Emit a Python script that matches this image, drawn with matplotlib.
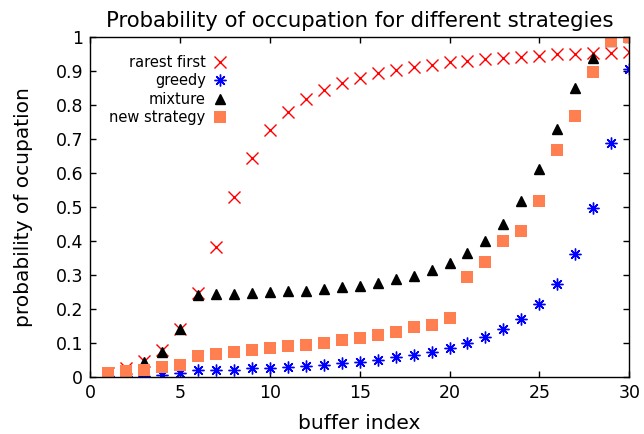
import numpy as np
import matplotlib
matplotlib.use("Agg")
import matplotlib.pyplot as plt

plt.rcParams['font.family'] = ['DejaVu Sans']

#-----------------------------------------------------------------------------------------------------------------------
# Data
#-----------------------------------------------------------------------------------------------------------------------
buffer_index = list(range(1, 31))

rarest_first = [0.012, 0.025, 0.045, 0.080, 0.140, 0.246, 0.381, 0.528, 0.643, 0.726,
                0.780, 0.817, 0.844, 0.864, 0.879, 0.893, 0.903, 0.910, 0.918, 0.925,
                0.928, 0.934, 0.937, 0.942, 0.944, 0.949, 0.951, 0.952, 0.954, 0.955]

greedy = [0.001, 0.002, 0.003, 0.005, 0.011, 0.019, 0.019, 0.020, 0.025, 0.027,
          0.029, 0.032, 0.035, 0.040, 0.043, 0.050, 0.058, 0.063, 0.073, 0.085,
          0.098, 0.117, 0.140, 0.171, 0.215, 0.273, 0.361, 0.496, 0.689, 0.905]

mixture = [0.010, 0.020, 0.042, 0.074, 0.140, 0.241, 0.243, 0.243, 0.245, 0.249,
           0.251, 0.253, 0.257, 0.264, 0.268, 0.277, 0.287, 0.297, 0.313, 0.334,
           0.364, 0.398, 0.450, 0.518, 0.612, 0.728, 0.849, 0.939, 0.989, 1.000]

new_strategy = [0.011, 0.016, 0.019, 0.030, 0.035, 0.062, 0.066, 0.074, 0.079, 0.084,
                0.089, 0.094, 0.099, 0.109, 0.114, 0.124, 0.133, 0.145, 0.151, 0.173,
                0.294, 0.337, 0.398, 0.430, 0.518, 0.668, 0.767, 0.898, 0.989, 1.000]

y_ticks = np.arange(0, 1.01, 0.1)
y_tick_labels = ['0', '0.1', '0.2', '0.3', '0.4', '0.5', '0.6', '0.7', '0.8', '0.9', '1']
x_ticks = [0, 5, 10, 15, 20, 25, 30]

#-----------------------------------------------------------------------------------------------------------------------
# Plot
#-----------------------------------------------------------------------------------------------------------------------
fig = plt.figure(figsize=(6.44, 4.34), dpi=100)
ax = fig.add_axes([0.140, 0.132, 0.837, 0.783])

ax.plot(buffer_index, rarest_first, linestyle='none', marker='x', color='red',
        markersize=8, markeredgewidth=1.0, label='rarest first')
ax.plot(buffer_index, greedy, linestyle='none', marker=(8, 2, 0), color='blue',
        markersize=8.5, markeredgewidth=1.0, label='greedy')
ax.plot(buffer_index, mixture, linestyle='none', marker='^', color='black',
        markersize=7.5, label='mixture')
ax.plot(buffer_index, new_strategy, linestyle='none', marker='s', color='#ff7f50',
        markersize=8.3, markeredgewidth=0, label='new strategy')

ax.set_xlim(0, 30)
ax.set_ylim(0, 1)
ax.set_xticks(x_ticks)
ax.set_yticks(y_ticks)
ax.set_yticklabels(y_tick_labels)
ax.tick_params(direction='in', top=True, right=True, length=4, width=1,
               labelsize=12.5, pad=5)
for s in ax.spines.values():
    s.set_linewidth(1.0)

ax.set_title('Probability of occupation for different strategies', fontsize=15.3, pad=7)
ax.set_xlabel('buffer index', fontsize=14.5, labelpad=9)
ax.set_ylabel('probability of ocupation', fontsize=14.5, labelpad=16)

ax.legend(loc='upper right', bbox_to_anchor=(0.255, 0.946), frameon=False, markerfirst=False,
          fontsize=10.5, handlelength=1.0, handletextpad=0.5, labelspacing=0.22,
          borderaxespad=0.0, borderpad=0.0, alignment='right')
leg = ax.get_legend()
for t in leg.get_texts():
    t.set_ha('right')

fig.savefig('out.png', dpi=100)
